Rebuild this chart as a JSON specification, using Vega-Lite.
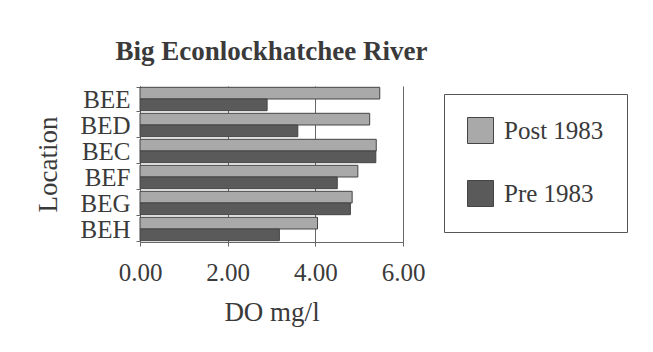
{
  "$schema": "https://vega.github.io/schema/vega-lite/v6.json",
  "autosize": "none",
  "width": 263,
  "height": 156,
  "padding": {"left": 140, "top": 86, "right": 250, "bottom": 110},
  "background": "white",
  "title": {
    "text": "Big Econlockhatchee River",
    "anchor": "middle",
    "font": "Liberation Serif",
    "fontSize": 27,
    "fontWeight": "bold",
    "color": "#3a3a3a",
    "offset": 8
  },
  "data": {
    "values": [
      {"location": "BEE", "period": "Post 1983", "do": 5.47},
      {"location": "BEE", "period": "Pre 1983", "do": 2.90},
      {"location": "BED", "period": "Post 1983", "do": 5.24},
      {"location": "BED", "period": "Pre 1983", "do": 3.60},
      {"location": "BEC", "period": "Post 1983", "do": 5.39},
      {"location": "BEC", "period": "Pre 1983", "do": 5.38},
      {"location": "BEF", "period": "Post 1983", "do": 4.97},
      {"location": "BEF", "period": "Pre 1983", "do": 4.50},
      {"location": "BEG", "period": "Post 1983", "do": 4.84},
      {"location": "BEG", "period": "Pre 1983", "do": 4.80},
      {"location": "BEH", "period": "Post 1983", "do": 4.05},
      {"location": "BEH", "period": "Pre 1983", "do": 3.18}
    ]
  },
  "mark": {"type": "bar", "stroke": "#444444", "strokeWidth": 1},
  "encoding": {
    "y": {
      "field": "location",
      "type": "nominal",
      "sort": ["BEE", "BED", "BEC", "BEF", "BEG", "BEH"],
      "scale": {"paddingInner": 0.1, "paddingOuter": 0.05},
      "axis": {
        "title": "Location",
        "titleFont": "Liberation Serif",
        "titleFontSize": 27,
        "titleFontWeight": "normal",
        "titleColor": "#3a3a3a",
        "titlePadding": 18,
        "labelFont": "Liberation Serif",
        "labelFontSize": 25,
        "labelColor": "#3a3a3a",
        "labelPadding": 6,
        "tickBand": "extent",
        "tickSize": 4,
        "tickColor": "#666666",
        "domainColor": "#666666"
      }
    },
    "yOffset": {
      "field": "period",
      "type": "nominal",
      "sort": ["Post 1983", "Pre 1983"],
      "scale": {"paddingInner": 0, "paddingOuter": 0}
    },
    "x": {
      "field": "do",
      "type": "quantitative",
      "scale": {"domain": [0, 6], "nice": false},
      "axis": {
        "title": "DO mg/l",
        "values": [0, 2, 4, 6],
        "format": ".2f",
        "grid": true,
        "gridColor": "#666666",
        "gridWidth": 1,
        "labelFlush": false,
        "titleFont": "Liberation Serif",
        "titleFontSize": 27,
        "titleFontWeight": "normal",
        "titleColor": "#3a3a3a",
        "titlePadding": 14,
        "labelFont": "Liberation Serif",
        "labelFontSize": 25,
        "labelColor": "#3a3a3a",
        "labelPadding": 14,
        "tickSize": 4,
        "tickColor": "#666666",
        "domainColor": "#666666"
      }
    },
    "color": {
      "field": "period",
      "type": "nominal",
      "sort": ["Post 1983", "Pre 1983"],
      "scale": {"domain": ["Post 1983", "Pre 1983"], "range": ["#a9a9a9", "#5a5a5a"]},
      "legend": {
        "title": null,
        "orient": "none",
        "legendX": 304,
        "legendY": 8,
        "padding": 23,
        "strokeColor": "#555555",
        "fillColor": "white",
        "symbolType": "square",
        "symbolSize": 676,
        "symbolStrokeColor": "#444444",
        "symbolStrokeWidth": 1,
        "rowPadding": 32,
        "labelFont": "Liberation Serif",
        "labelFontSize": 25,
        "labelColor": "#3a3a3a",
        "labelOffset": 10
      }
    }
  },
  "config": {
    "view": {"stroke": null}
  }
}
